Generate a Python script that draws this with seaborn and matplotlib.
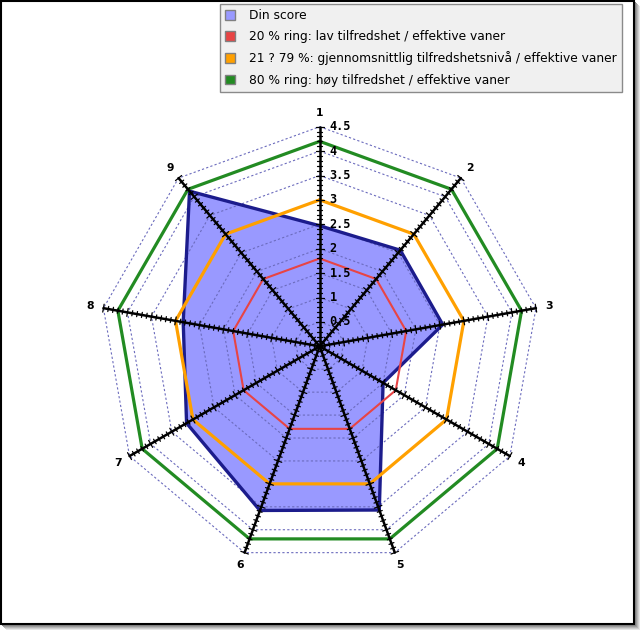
import numpy as np
import matplotlib
matplotlib.use("Agg")
import matplotlib.pyplot as plt
import seaborn as sns
from matplotlib.patches import Rectangle, Patch

# ---------------- data ----------------
axis_labels = ["1", "2", "3", "4", "5", "6", "7", "8", "9"]
din_score = [2.47, 2.57, 2.56, 1.50, 3.57, 3.58, 3.15, 2.84, 4.15]
ring_low = [1.8, 1.8, 1.8, 1.8, 1.8, 1.8, 1.8, 1.8, 1.8]
ring_mid = [3.0, 3.0, 3.0, 3.0, 3.0, 3.0, 3.0, 3.0, 3.0]
ring_high = [4.2, 4.2, 4.2, 4.2, 4.2, 4.2, 4.2, 4.2, 4.2]
tick_values = [0.5, 1.0, 1.5, 2.0, 2.5, 3.0, 3.5, 4.0, 4.5]
tick_labels = ["0.5", "1", "1.5", "2", "2.5", "3", "3.5", "4", "4.5"]
legend_labels = [
    "Din score",
    "20 % ring: lav tilfredshet / effektive vaner",
    "21 ? 79 %: gjennomsnittlig tilfredshetsnivå / effektive vaner",
    "80 % ring: høy tilfredshet / effektive vaner",
]

# ---------------- style ----------------
sns.set_theme(style="white")
plt.rcParams["font.family"] = ["DejaVu Sans"]
plt.rcParams["text.color"] = "black"

fill_col = "#9999ff"
edge_col = "#1c1c8c"
red_col = "#e84444"
orange_col = "#ffa000"
green_col = "#228b22"
grid_col = "#6b6bbd"

W, H = 640, 630
fig = plt.figure(figsize=(W / 100, H / 100), dpi=100)
fig.patch.set_facecolor("white")

# shadow + frame (behind the axes)
shadow_cols = ["#e6e6e6", "#cfcfcf", "#b6b6b6", "#9c9c9c", "#858585"]
for k, c in zip([5, 4, 3, 2, 1], shadow_cols):
    fig.add_artist(Rectangle(((1 + k) / W, (6 - k - 1) / H), 634 / W, 624 / H,
                             transform=fig.transFigure, facecolor=c,
                             edgecolor="none", zorder=-3))
fig.add_artist(Rectangle((1 / W, 6 / H), 633 / W, 623 / H,
                         transform=fig.transFigure, facecolor="white",
                         edgecolor="black", lw=1.5, zorder=-2))

# polar axes: center (319.7, 346.3) px from top, 48.8 px per unit
cx, cy, ppu, rmax = 319.7, 346.3, 48.8, 5.0
rad = rmax * ppu
ax = fig.add_axes([(cx - rad) / W, (H - cy - rad) / H, 2 * rad / W, 2 * rad / H],
                  projection="polar")
ax.set_theta_zero_location("N")
ax.set_theta_direction(-1)
ax.set_ylim(0, rmax)
ax.set_axis_off()

n = len(axis_labels)
theta = np.linspace(0, 2 * np.pi, n, endpoint=False)
theta_c = np.append(theta, theta[0])

def closed(vals):
    return np.append(np.asarray(vals, float), vals[0])

# fill of score
ax.fill(theta_c, closed(din_score), color=fill_col, lw=0, zorder=1, clip_on=False)

# dotted polygon grid
for v in tick_values:
    ax.plot(theta_c, closed([v] * n), ls=(0, (2, 2)), color=grid_col, lw=0.8,
            zorder=2, clip_on=False)

# score outline
sns.lineplot(x=theta_c, y=closed(din_score), sort=False, estimator=None,
             color=edge_col, lw=2.4, zorder=3, ax=ax, legend=False)
# rings
sns.lineplot(x=theta_c, y=closed(ring_low), sort=False, estimator=None,
             color=red_col, lw=1.5, zorder=4, ax=ax, legend=False)
sns.lineplot(x=theta_c, y=closed(ring_mid), sort=False, estimator=None,
             color=orange_col, lw=2.3, zorder=4, ax=ax, legend=False)
sns.lineplot(x=theta_c, y=closed(ring_high), sort=False, estimator=None,
             color=green_col, lw=2.3, zorder=4, ax=ax, legend=False)
ax.set_xlabel("")
ax.set_ylabel("")
ax.set_ylim(0, rmax)

# radial axes with perpendicular ticks
rtop = tick_values[-1]
minor = np.round(np.arange(0.1, rtop + 0.001, 0.1), 2)
for th in theta:
    ax.plot([th, th], [0, rtop], color="black", lw=1.8, zorder=5, clip_on=False)
    tt, rr = [], []
    for r in minor:
        major = abs(r * 2 - round(r * 2)) < 1e-6
        h = (4.0 if major else 2.6) / ppu
        d = np.arctan(h / r)
        R = np.hypot(r, h)
        tt += [th - d, th + d, np.nan]
        rr += [R, R, np.nan]
    ax.plot(tt, rr, color="black", lw=0.9, zorder=5, clip_on=False)

# tick labels on first axis
for v, lbl in zip(tick_values, tick_labels):
    ax.annotate(lbl, xy=(0, v), xytext=(10, 0), textcoords="offset pixels",
                ha="left", va="center", fontsize=8.6, fontweight="bold",
                family="DejaVu Sans Mono", color="black", zorder=6,
                annotation_clip=False)

# category labels
for th, lbl in zip(theta, axis_labels):
    ax.text(th, 4.78, lbl, ha="center", va="center", fontsize=7.8,
            fontweight="bold", color="black", zorder=6, clip_on=False)

# legend
handles = [Patch(facecolor=c, edgecolor="#808080", lw=1)
           for c in [fill_col, red_col, orange_col, green_col]]
leg = fig.legend(handles, legend_labels, loc="upper left",
                 bbox_to_anchor=(220 / W, 1 - 4 / H), frameon=True,
                 fancybox=False, edgecolor="#8a8a8a", facecolor="#f0f0f0",
                 framealpha=1, fontsize=8.8, handlelength=0.85, handleheight=0.85,
                 handletextpad=1.15, labelspacing=0.68, borderpad=0.4,
                 borderaxespad=0)
leg.get_frame().set_linewidth(1.0)
for t in leg.get_texts():
    t.set_color("black")
leg.set_zorder(10)

fig.savefig("out.png", dpi=100, facecolor="white")
